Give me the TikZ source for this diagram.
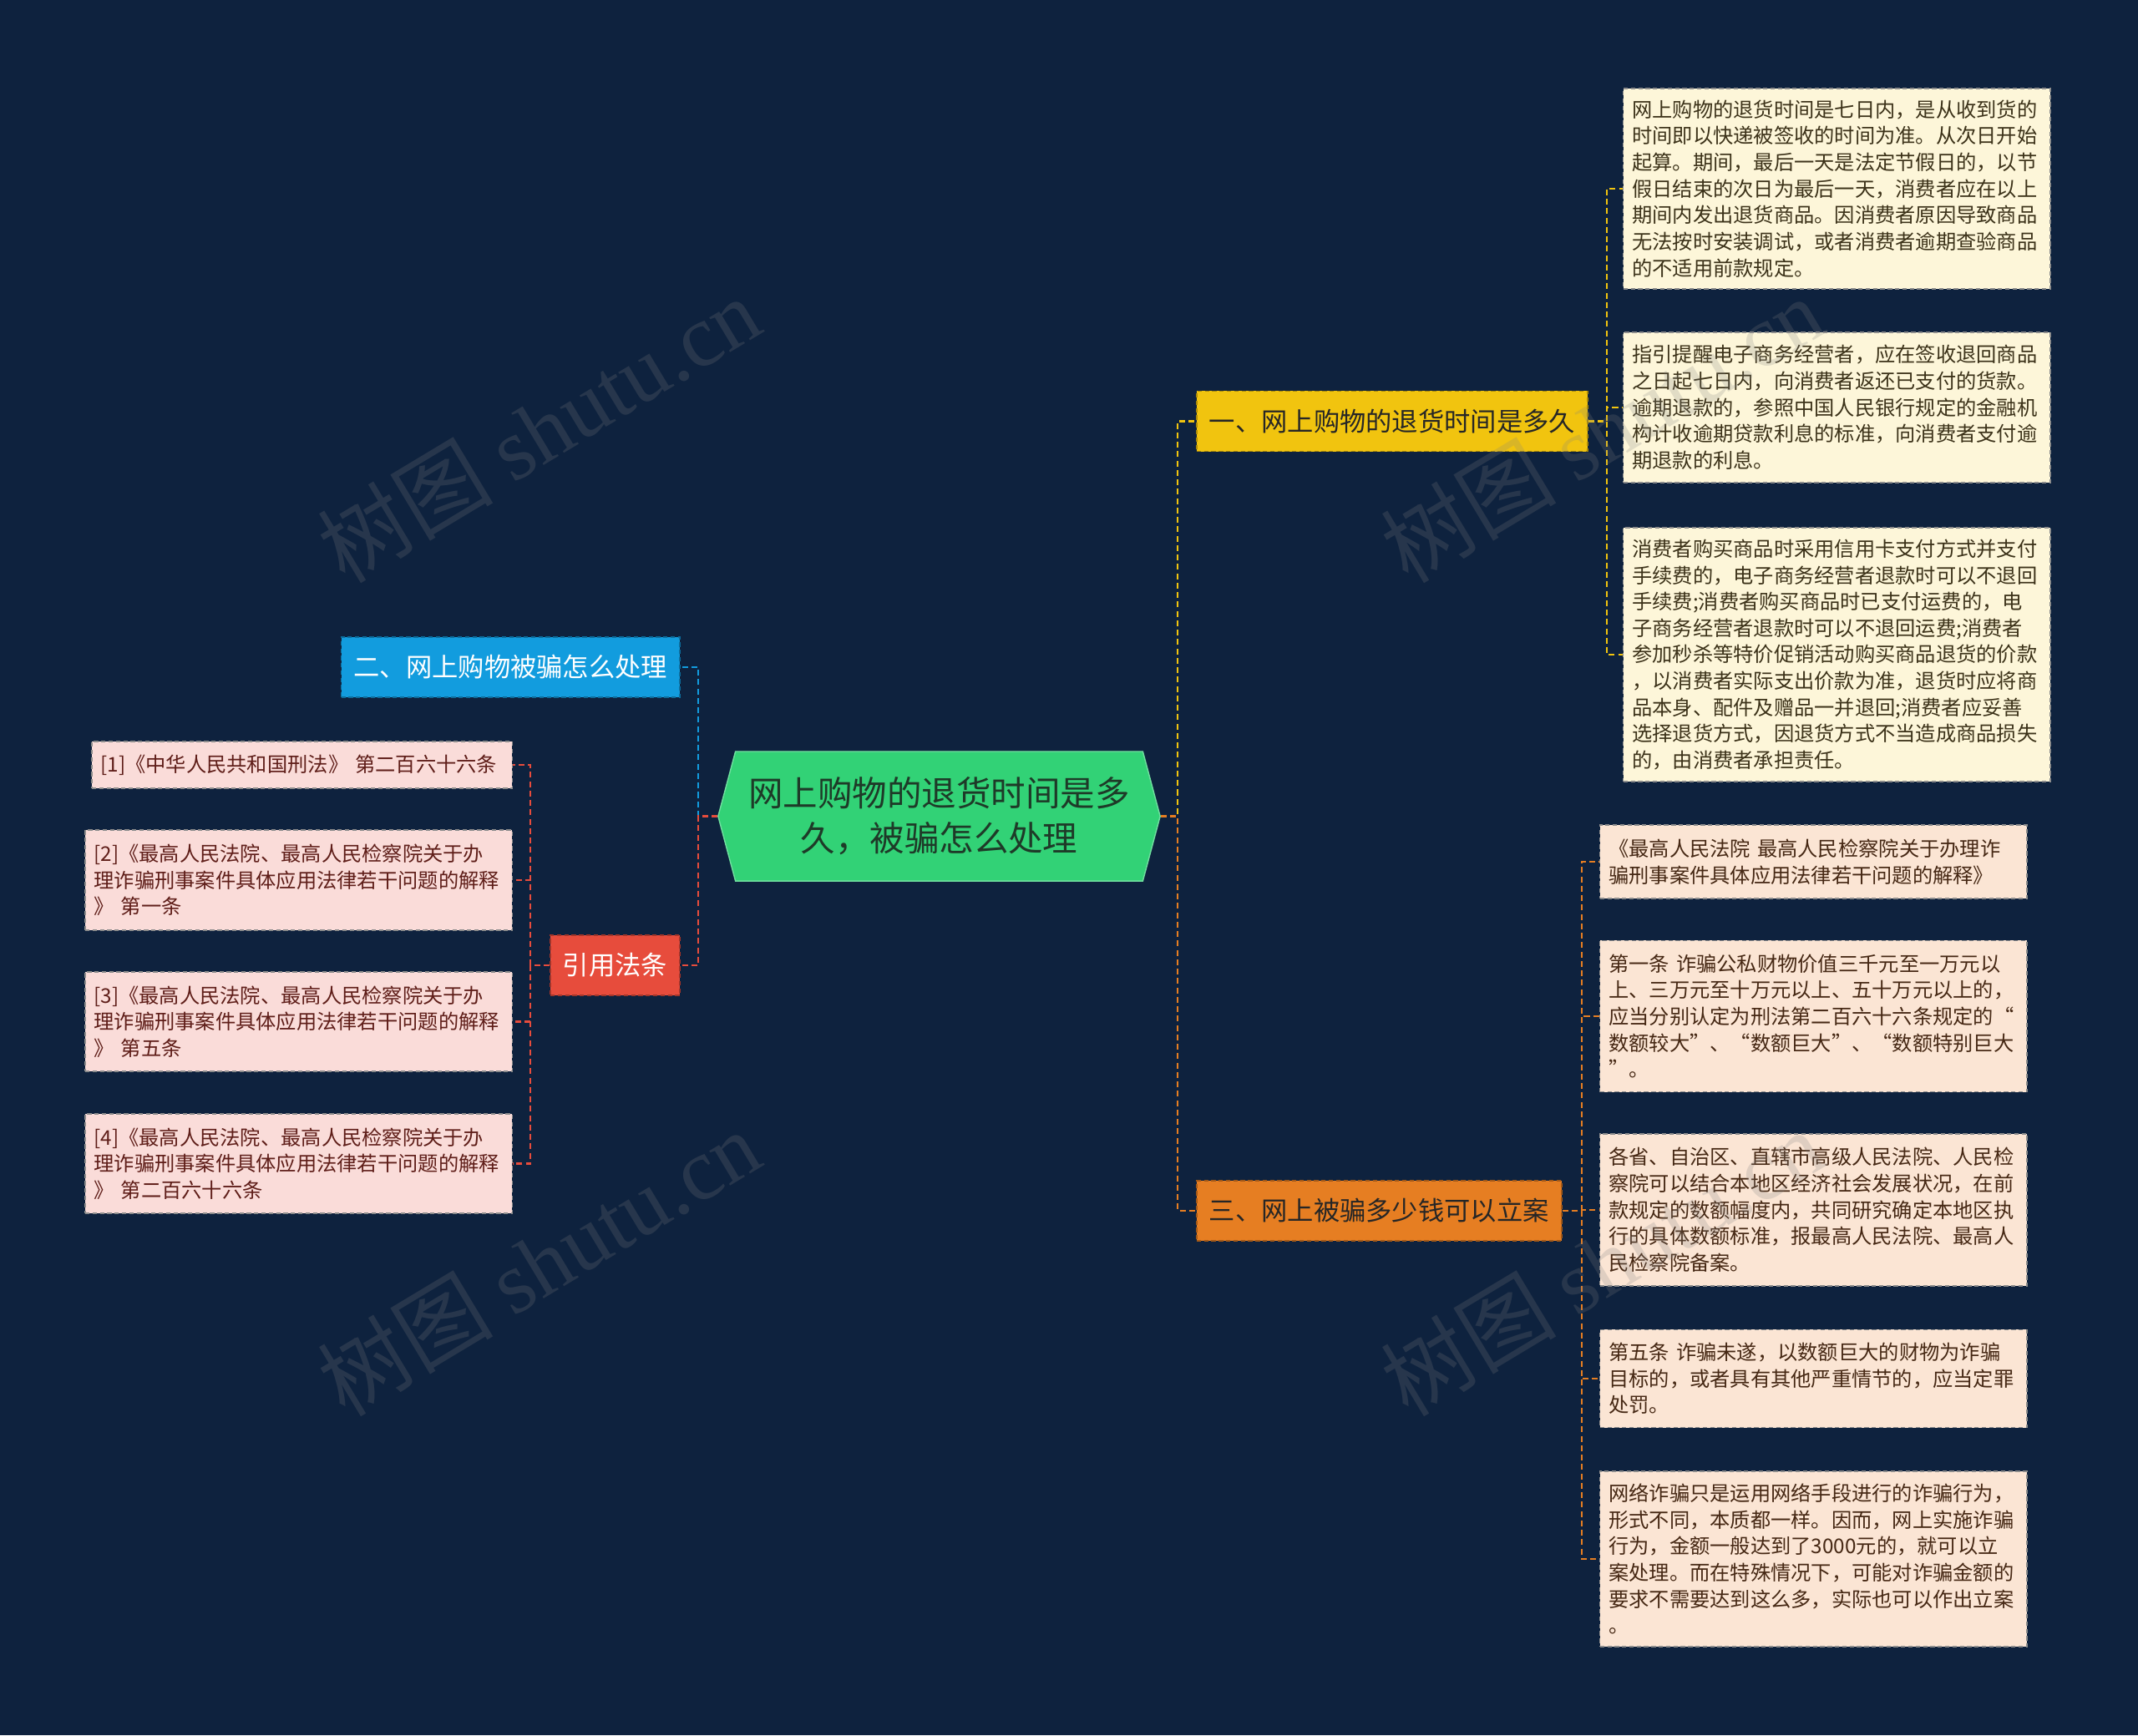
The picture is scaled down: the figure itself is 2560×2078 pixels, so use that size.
\documentclass[tikz,border=0pt]{standalone}
\usepackage{fontspec}
\setmainfont{Noto Sans CJK SC}
\newfontfamily\wmfont{Liberation Serif}
\usetikzlibrary{shapes.symbols}

\definecolor{bg}{RGB}{14,34,62}
\definecolor{rootfill}{RGB}{50,210,118}
\definecolor{roottext}{RGB}{30,58,40}
\definecolor{cYellow}{RGB}{241,196,15}
\definecolor{cBlue}{RGB}{18,156,222}
\definecolor{cRed}{RGB}{231,76,60}
\definecolor{cOrange}{RGB}{230,126,34}
\definecolor{creamfill}{RGB}{253,246,217}
\definecolor{creamtext}{RGB}{60,50,25}
\definecolor{peachfill}{RGB}{251,229,212}
\definecolor{peachtext}{RGB}{70,40,20}
\definecolor{pinkfill}{RGB}{250,220,217}
\definecolor{pinktext}{RGB}{95,30,25}

\begin{document}
\begin{tikzpicture}[x=0.01cm, y=-0.01cm, every node/.style={align=left}, line/.style={dash pattern=on 2pt off 1.2pt, line width=0.6pt}]

% styles
\tikzset{
  root/.style={signal, signal to=west and east, signal pointer angle=150, draw=rootfill!70!white, line width=0.4pt, fill=rootfill, text=roottext, minimum width=5.29cm, minimum height=1.55cm, align=center, font=\fontsize{11.8}{15.4}\selectfont},
  topic/.style={rectangle, dash pattern=on 1.5pt off 1pt, line width=0.5pt, inner xsep=0.15cm, minimum height=0.72cm, font=\fontsize{8.9}{11}\selectfont},
  leaf/.style={rectangle, dash pattern=on 1.5pt off 1pt, line width=0.4pt, inner xsep=0.105cm, inner ysep=0.08cm, text width=4.9cm, font=\fontsize{6.9}{9}\selectfont},
  yleaf/.style={leaf, fill=creamfill, draw=black!45, text=creamtext},
  oleaf/.style={leaf, fill=peachfill, draw=black!45, text=peachtext},
  rleaf/.style={leaf, fill=pinkfill, draw=black!45, text=pinktext},
  watermark/.style={rotate=31, text=gray, opacity=0.22, font=\fontsize{30}{30}\selectfont}
}

\useasboundingbox (0,0) rectangle (2560,2078);
\fill[bg] (0,0) rectangle (2560,2078);

% central topic
\node[root] (A) at (1124.5,977.5) {网上购物的退货时间是多\\久，被骗怎么处理};

% main branches
\node[topic, fill=cYellow, draw=cYellow!70!black, text=black!85, anchor=west] (B) at (1432,504.5) {一、网上购物的退货时间是多久};
\node[topic, fill=cBlue, draw=cBlue!70!black, text=white, anchor=east] (C) at (815,799) {二、网上购物被骗怎么处理};
\node[topic, fill=cRed, draw=cRed!70!black, text=white, anchor=east] (D) at (815,1156) {引用法条};
\node[topic, fill=cOrange, draw=cOrange!70!black, text=black!85, anchor=west] (E) at (1432,1450) {三、网上被骗多少钱可以立案};

% leaves of branch one
\node[yleaf, minimum height=2.40cm, anchor=west] (F) at (1943,226) {网上购物的退货时间是七日内，是从收到货的\\时间即以快递被签收的时间为准。从次日开始\\起算。期间，最后一天是法定节假日的，以节\\假日结束的次日为最后一天，消费者应在以上\\期间内发出退货商品。因消费者原因导致商品\\无法按时安装调试，或者消费者逾期查验商品\\的不适用前款规定。};
\node[yleaf, minimum height=1.80cm, anchor=west] (G) at (1943,488) {指引提醒电子商务经营者，应在签收退回商品\\之日起七日内，向消费者返还已支付的货款。\\逾期退款的，参照中国人民银行规定的金融机\\构计收逾期贷款利息的标准，向消费者支付逾\\期退款的利息。};
\node[yleaf, minimum height=3.04cm, anchor=west] (H) at (1943,784) {消费者购买商品时采用信用卡支付方式并支付\\手续费的，电子商务经营者退款时可以不退回\\手续费;消费者购买商品时已支付运费的，电\\子商务经营者退款时可以不退回运费;消费者\\参加秒杀等特价促销活动购买商品退货的价款\\，以消费者实际支出价款为准，退货时应将商\\品本身、配件及赠品一并退回;消费者应妥善\\选择退货方式，因退货方式不当造成商品损失\\的，由消费者承担责任。};

% leaves of branch three
\node[oleaf, minimum height=0.88cm, anchor=west] (I) at (1915,1032) {《最高人民法院~最高人民检察院关于办理诈\\骗刑事案件具体应用法律若干问题的解释》};
\node[oleaf, minimum height=1.81cm, anchor=west] (J) at (1915,1217) {第一条~诈骗公私财物价值三千元至一万元以\\上、三万元至十万元以上、五十万元以上的，\\应当分别认定为刑法第二百六十六条规定的“\\数额较大”、“数额巨大”、“数额特别巨大\\”。};
\node[oleaf, minimum height=1.82cm, anchor=west] (K) at (1915,1449) {各省、自治区、直辖市高级人民法院、人民检\\察院可以结合本地区经济社会发展状况，在前\\款规定的数额幅度内，共同研究确定本地区执\\行的具体数额标准，报最高人民法院、最高人\\民检察院备案。};
\node[oleaf, minimum height=1.17cm, anchor=west] (L) at (1915,1651) {第五条~诈骗未遂，以数额巨大的财物为诈骗\\目标的，或者具有其他严重情节的，应当定罪\\处罚。};
\node[oleaf, minimum height=2.10cm, anchor=west] (M) at (1915,1867) {网络诈骗只是运用网络手段进行的诈骗行为，\\形式不同，本质都一样。因而，网上实施诈骗\\行为，金额一般达到了3000元的，就可以立\\案处理。而在特殊情况下，可能对诈骗金额的\\要求不需要达到这么多，实际也可以作出立案\\。};

% cited articles
\node[rleaf, text width=4.82cm, minimum height=0.56cm, anchor=east] (N) at (614,916) {[1]《中华人民共和国刑法》~第二百六十六条};
\node[rleaf, minimum height=1.20cm, anchor=east] (O) at (614,1054) {[2]《最高人民法院、最高人民检察院关于办\\理诈骗刑事案件具体应用法律若干问题的解释\\》~第一条};
\node[rleaf, minimum height=1.19cm, anchor=east] (P) at (614,1223.5) {[3]《最高人民法院、最高人民检察院关于办\\理诈骗刑事案件具体应用法律若干问题的解释\\》~第五条};
\node[rleaf, minimum height=1.19cm, anchor=east] (Q) at (614,1393.5) {[4]《最高人民法院、最高人民检察院关于办\\理诈骗刑事案件具体应用法律若干问题的解释\\》~第二百六十六条};

% connectors
\draw[line, cBlue] (A.west) -- ++(-23,0) |- (C.east);
\draw[line, cRed] (A.west) -- ++(-23,0) |- (D.east);
\draw[line, cYellow] (A.east) -- ++(20,0) |- (B.west);
\draw[line, cOrange] (A.east) -- ++(20,0) |- (E.west);

\draw[line, cYellow] (B.east) -- ++(22,0) |- (F.west);
\draw[line, cYellow] (B.east) -- ++(22,0) |- (G.west);
\draw[line, cYellow] (B.east) -- ++(22,0) |- (H.west);

\draw[line, cOrange] (E.east) -- ++(23,0) |- (I.west);
\draw[line, cOrange] (E.east) -- ++(23,0) |- (J.west);
\draw[line, cOrange] (E.east) -- ++(23,0) |- (K.west);
\draw[line, cOrange] (E.east) -- ++(23,0) |- (L.west);
\draw[line, cOrange] (E.east) -- ++(23,0) |- (M.west);

\draw[line, cRed] (D.west) -- ++(-23,0) |- (N.east);
\draw[line, cRed] (D.west) -- ++(-23,0) |- (O.east);
\draw[line, cRed] (D.west) -- ++(-23,0) |- (P.east);
\draw[line, cRed] (D.west) -- ++(-23,0) |- (Q.east);

% watermarks
\node[watermark] (W1) at (645,514) {树图 {\wmfont shutu.cn}};
\node[watermark] (W2) at (1918,514) {树图 {\wmfont shutu.cn}};
\node[watermark] (W3) at (645,1512) {树图 {\wmfont shutu.cn}};
\node[watermark] (W4) at (1918,1512) {树图 {\wmfont shutu.cn}};

\end{tikzpicture}
\end{document}
